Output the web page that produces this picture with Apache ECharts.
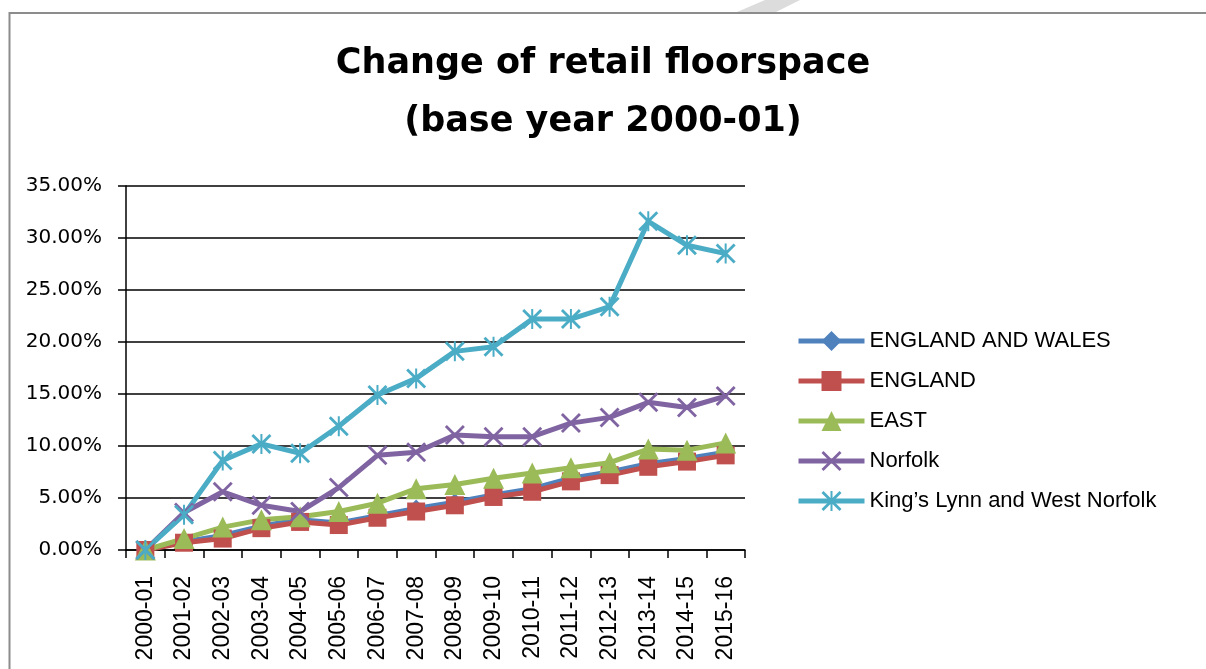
<!DOCTYPE html>
<html>
<head>
<meta charset="utf-8">
<script src="https://cdn.jsdelivr.net/npm/echarts@6/dist/echarts.min.js"></script>
<style>html,body{margin:0;padding:0;background:#fff;}#c{width:1206px;height:669px;}</style>
</head>
<body>
<div id="c"></div>
<script>
const categories = ['2000-01','2001-02','2002-03','2003-04','2004-05','2005-06','2006-07','2007-08','2008-09','2009-10','2010-11','2011-12','2012-13','2013-14','2014-15','2015-16'];
const englandWales = [0, 0.8, 1.4, 2.3, 2.9, 2.6, 3.3, 4.0, 4.6, 5.3, 5.9, 6.9, 7.5, 8.3, 8.8, 9.4];
const england = [0, 0.7, 1.1, 2.1, 2.7, 2.4, 3.1, 3.7, 4.3, 5.1, 5.6, 6.6, 7.2, 8.0, 8.5, 9.1];
const east = [0, 1.1, 2.2, 2.9, 3.2, 3.7, 4.5, 5.9, 6.3, 6.9, 7.4, 7.9, 8.4, 9.7, 9.6, 10.3];
const norfolk = [0, 3.6, 5.6, 4.3, 3.7, 6.0, 9.1, 9.4, 11.05, 10.9, 10.9, 12.2, 12.75, 14.2, 13.7, 14.8];
const kingsLynn = [0, 3.4, 8.6, 10.2, 9.3, 11.9, 14.9, 16.5, 19.1, 19.55, 22.2, 22.2, 23.4, 31.6, 29.3, 28.5];
const yTicks = [0, 5, 10, 15, 20, 25, 30, 35];

const FONT = 'Liberation Sans';
const X_PATH = 'path://M0,1 L1,0 L10,9 L9,10 Z M9,0 L10,1 L1,10 L0,9 Z';
const STAR_PATH = 'path://M0,1 L1,0 L10,9 L9,10 Z M9,0 L10,1 L1,10 L0,9 Z M4.5,0 L5.5,0 L5.5,10 L4.5,10 Z';

function mk(name, data, color, symbol, size) {
  return {
    name: name, type: 'line', data: data.map(v => v / 100),
    symbol: symbol, symbolSize: size,
    lineStyle: { color: color, width: 5 },
    itemStyle: { color: color },
    emphasis: { disabled: true },
    animation: false
  };
}

const chart = echarts.init(document.getElementById('c'));
chart.setOption({
  backgroundColor: '#fff',
  animation: false,
  title: {
    text: 'Change of retail floorspace\n(base year 2000-01)',
    left: 'center', top: 30,
    textStyle: { fontFamily: 'DejaVu Sans', fontWeight: 'bold', fontSize: 35, lineHeight: 58, color: '#000' }
  },
  graphic: [
    { type: 'polygon', shape: { points: [[765,0],[800,0],[776,12],[737,12]] }, style: { fill: '#dcdcdc' }, silent: true },
    { type: 'rect', shape: { x: 9.5, y: 13, width: 1300, height: 800 }, style: { fill: 'none', stroke: '#8c8c8c', lineWidth: 2 }, silent: true }
  ],
  legend: {
    orient: 'vertical', left: 791, top: 325, itemGap: 18,
    itemWidth: 66, itemHeight: 25,
    lineStyle: { width: 5 },
    textStyle: { fontFamily: FONT, fontSize: 22, color: '#000' },
    data: ['ENGLAND AND WALES','ENGLAND','EAST','Norfolk','King\u2019s Lynn and West Norfolk']
  },
  grid: { left: 126, right: 461, top: 186, bottom: 119, containLabel: false },
  xAxis: {
    type: 'category', data: categories, boundaryGap: true,
    axisLine: { lineStyle: { color: '#000', width: 1.5 } },
    axisTick: { show: true, length: 8, lineStyle: { color: '#000', width: 1.5 } },
    axisLabel: { rotate: 90, margin: 26, fontFamily: FONT, fontSize: 23, color: '#000', interval: 0 },
    splitLine: { show: false }
  },
  yAxis: {
    type: 'value', min: 0, max: 0.35, interval: 0.05,
    axisLine: { show: true, lineStyle: { color: '#000', width: 1.5 } },
    axisTick: { show: true, length: 8, lineStyle: { color: '#000', width: 1.5 } },
    axisLabel: { margin: 24, fontFamily: 'DejaVu Sans', fontSize: 20, color: '#000',
      formatter: v => { const p = Math.round(v * 100); return yTicks.indexOf(p) >= 0 ? p.toFixed(2) + '%' : ''; } },
    splitLine: { show: true, lineStyle: { color: '#000', width: 1.5 } }
  },
  series: [
    mk('ENGLAND AND WALES', englandWales, '#4F81BD', 'diamond', 18),
    mk('ENGLAND', england, '#C0504D', 'rect', 18),
    mk('EAST', east, '#9BBB59', 'triangle', 21),
    mk('Norfolk', norfolk, '#8064A2', X_PATH, 20),
    mk('King\u2019s Lynn and West Norfolk', kingsLynn, '#4BACC6', STAR_PATH, 20)
  ]
});
</script>
</body>
</html>
